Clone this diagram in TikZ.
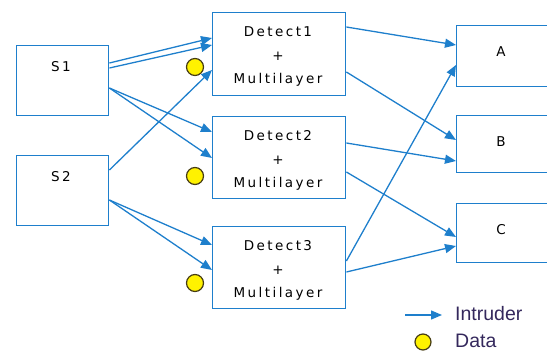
\documentclass[tikz,border=0pt]{standalone}
\usepackage{fontspec}
\setmainfont{DejaVu Sans}
\newfontfamily\legfont{Liberation Sans}
\usetikzlibrary{arrows.meta,calc}
\definecolor{lblue}{RGB}{30,127,204}
\definecolor{legtext}{RGB}{52,40,92}
\definecolor{dotedge}{RGB}{70,60,20}
\tikzset{
  box/.style={draw=lblue,line width=1.4pt,rectangle,inner sep=0pt,anchor=north west},
  boxtxt/.style={font=\fontsize{13.5}{15}\selectfont\addfontfeature{LetterSpace=18},inner sep=0pt,text=black},
  link/.style={draw=lblue,line width=1.3pt,-{Triangle[length=11pt,width=9pt]}},
  datadot/.style={circle,draw=dotedge,fill=yellow,line width=1.2pt,minimum size=17pt,inner sep=0pt},
  legtxt/.style={font=\legfont\fontsize{19.5}{21}\selectfont,text=legtext,inner sep=0pt,anchor=west}
}
\begin{document}
\begin{tikzpicture}[x=1pt,y=-1pt]
\path[use as bounding box] (0,0) rectangle (547,351);
% boxes
\node[box,minimum width=92pt,minimum height=70pt] (S1) at (16,45) {};
\node[box,minimum width=92pt,minimum height=70pt] (S2) at (16,155) {};
\node[box,minimum width=133pt,minimum height=83pt] (D1) at (212,12) {};
\node[box,minimum width=133pt,minimum height=82pt] (D2) at (212,116) {};
\node[box,minimum width=133pt,minimum height=82pt] (D3) at (212,226) {};
\node[box,minimum width=92pt,minimum height=61pt] (A) at (456,25) {};
\node[box,minimum width=92pt,minimum height=57pt] (B) at (456,115) {};
\node[box,minimum width=92pt,minimum height=59pt] (C) at (456,203) {};
% texts
\node[boxtxt] (tS1) at (61,67) {S1};
\node[boxtxt] (tS2) at (61,177) {S2};
\node[boxtxt] (tD1a) at (278,32) {Detect1};
\node[boxtxt] (tD1b) at (278,56) {+};
\node[boxtxt] (tD1c) at (278,80) {Multilayer};
\node[boxtxt] (tD2a) at (278,136) {Detect2};
\node[boxtxt] (tD2b) at (278,160) {+};
\node[boxtxt] (tD2c) at (278,184) {Multilayer};
\node[boxtxt] (tD3a) at (278,246) {Detect3};
\node[boxtxt] (tD3b) at (278,270) {+};
\node[boxtxt] (tD3c) at (278,294) {Multilayer};
\node[boxtxt] (tA) at (501,52) {A};
\node[boxtxt] (tB) at (501,142) {B};
\node[boxtxt] (tC) at (501,230) {C};
% data dots
\node[datadot] (d1) at (195,67) {};
\node[datadot] (d2) at (195,176) {};
\node[datadot] (d3) at (195,283) {};
% arrows S -> Detect
\draw[link] ($(S1.north east)+(0,18)$) -- ($(D1.north west)+(0,26)$);
\draw[link] ($(S1.north east)+(0,23)$) -- ($(D1.north west)+(0,33)$);
\draw[link] ($(S1.north east)+(0,43)$) -- ($(D2.north west)+(0,16)$);
\draw[link] ($(S1.north east)+(0,43)$) -- ($(D2.north west)+(0,42)$);
\draw[link] ($(S2.north east)+(0,15)$) -- ($(D1.north west)+(0,58)$);
\draw[link] ($(S2.north east)+(0,45)$) -- ($(D3.north west)+(0,19)$);
\draw[link] ($(S2.north east)+(0,45)$) -- ($(D3.north west)+(0,44)$);
% arrows Detect -> targets
\draw[link] ($(D1.north east)+(0,15)$) -- ($(A.north west)+(0,20)$);
\draw[link] ($(D1.north east)+(0,60)$) -- ($(B.north west)+(0,25)$);
\draw[link] ($(D2.north east)+(0,27)$) -- ($(B.north west)+(0,46)$);
\draw[link] ($(D2.north east)+(0,56)$) -- ($(C.north west)+(0,34)$);
\draw[link] ($(D3.north east)+(0,35)$) -- ($(A.north west)+(0,40)$);
\draw[link] ($(D3.north east)+(0,46)$) -- ($(C.north west)+(0,43)$);
% legend
\coordinate (l1) at (405,315);
\coordinate (l2) at (442,315);
\draw[link] (l1) -- (l2);
\node[legtxt] (li) at (455,314) {Intruder};
\node[datadot,minimum size=16pt] (dl) at (423,342) {};
\node[legtxt] (ld) at (455,341) {Data};
\end{tikzpicture}
\end{document}
